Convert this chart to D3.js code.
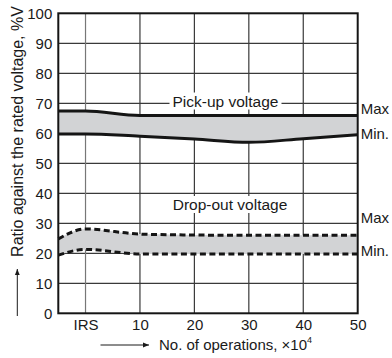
<!DOCTYPE html>
<html>
<head>
<meta charset="utf-8">
<script src="https://cdn.jsdelivr.net/npm/d3@7"></script>
<style>
html,body{margin:0;padding:0;background:#fff;}
svg{display:block;font-family:"Liberation Sans",Arial,sans-serif;}
</style>
</head>
<body>
<svg id="chart" width="392" height="358"></svg>
<script>
// ---- data ----
const xPoints = [-5, 0, 10, 20, 30, 40, 50];           // -5 = left plot edge, 0 = IRS
const pickupMax = [67.4, 67.4, 65.9, 65.9, 65.9, 65.9, 65.9];
const pickupMin = [59.8, 59.8, 59.0, 58.1, 57.0, 58.2, 59.5];
const dropoutMax = [24.8, 28.1, 26.4, 26.1, 26.0, 26.0, 26.0];
const dropoutMin = [19.4, 21.3, 19.8, 19.8, 19.8, 19.8, 19.8];
const xTickValues = [0, 10, 20, 30, 40, 50];
const xTickLabels = ["IRS", "10", "20", "30", "40", "50"];
const yTickValues = [0, 10, 20, 30, 40, 50, 60, 70, 80, 90, 100];
const yTitle = "Ratio against the rated voltage, %V";
const xTitle = "No. of operations, ×10";
const pickupLabel = "Pick-up voltage";
const dropoutLabel = "Drop-out voltage";

// ---- layout ----
const L = 58.3, R = 357.7, T = 13.3, B = 313.3;
const svg = d3.select("#chart");
const x = d3.scaleLinear().domain([-5, 50]).range([L, R]);
const y = d3.scaleLinear().domain([0, 100]).range([B, T]);

// grid
const grid = svg.append("g");
grid.selectAll("line.h").data(yTickValues.filter(v => v > 0 && v < 100)).enter()
  .append("line").attr("x1", L).attr("x2", R)
  .attr("y1", d => y(d)).attr("y2", d => y(d))
  .attr("stroke", "#3a3a3a").attr("stroke-width", 1.2);
grid.selectAll("line.v").data(xTickValues.filter(v => v < 50)).enter()
  .append("line").attr("y1", T).attr("y2", B)
  .attr("x1", d => x(d)).attr("x2", d => x(d))
  .attr("stroke", d => d === 0 ? "#777" : "#3a3a3a").attr("stroke-width", 1.2);

const pts = (a) => xPoints.map((xv, i) => [xv, a[i]]);
const area = (lo, hi) => d3.area().curve(d3.curveMonotoneX)
  .x((d, i) => x(xPoints[i])).y0((d, i) => y(lo[i])).y1((d, i) => y(hi[i]))(xPoints);
const line = d3.line().curve(d3.curveMonotoneX).x(d => x(d[0])).y(d => y(d[1]));

// bands
svg.append("path").attr("d", area(pickupMin, pickupMax)).attr("fill", "#d2d3d5");
svg.append("path").attr("d", area(dropoutMin, dropoutMax)).attr("fill", "#d2d3d5");

// band labels with white background
function bandLabel(text, cx, by) {
  const g = svg.append("g");
  const t = g.append("text").attr("x", cx).attr("y", by).attr("text-anchor", "middle")
    .attr("font-size", 15.5).attr("fill", "#1a1a1a").text(text);
  const bb = t.node().getBBox();
  g.insert("rect", "text").attr("x", bb.x - 3).attr("y", bb.y).attr("width", bb.width + 6)
    .attr("height", bb.height).attr("fill", "#fff");
}
bandLabel(pickupLabel, 225.5, 106.5);
bandLabel(dropoutLabel, 230, 210);

// lines
[pickupMax, pickupMin].forEach(a => svg.append("path").attr("d", line(pts(a)))
  .attr("fill", "none").attr("stroke", "#151515").attr("stroke-width", 3));
[dropoutMax, dropoutMin].forEach(a => svg.append("path").attr("d", line(pts(a)))
  .attr("fill", "none").attr("stroke", "#151515").attr("stroke-width", 3)
  .attr("stroke-dasharray", "6,3.5"));

// frame
svg.append("rect").attr("x", L).attr("y", T).attr("width", R - L).attr("height", B - T)
  .attr("fill", "none").attr("stroke", "#151515").attr("stroke-width", 2);

// axes
const yAxis = svg.append("g").attr("transform", `translate(${L},0)`)
  .call(d3.axisLeft(y).tickValues(yTickValues).tickSize(0).tickPadding(6));
const xAxis = svg.append("g").attr("transform", `translate(0,${B})`)
  .call(d3.axisBottom(x).tickValues(xTickValues).tickSize(0).tickPadding(6)
    .tickFormat((d, i) => xTickLabels[i]));
[yAxis, xAxis].forEach(g => {
  g.select(".domain").remove();
  g.selectAll("text").attr("font-size", 15).attr("fill", "#1a1a1a")
    .attr("font-family", "Liberation Sans, Arial, sans-serif");
});

// Max / Min labels
const side = [["Max", 114], ["Min.", 138.5], ["Max", 223], ["Min.", 256]];
svg.selectAll("text.side").data(side).enter().append("text")
  .attr("x", R + 3).attr("y", d => d[1]).attr("font-size", 15).attr("fill", "#1a1a1a")
  .text(d => d[0]);

// arrow marker
svg.append("defs").append("marker").attr("id", "ah").attr("viewBox", "0 0 10 10")
  .attr("refX", 10).attr("refY", 5).attr("markerWidth", 6).attr("markerHeight", 6)
  .attr("markerUnits", "userSpaceOnUse").attr("orient", "auto")
  .append("path").attr("d", "M0,1 L10,5 L0,9 Z").attr("fill", "#1a1a1a");

// y title
svg.append("text").attr("transform", "translate(22.7,131.5) rotate(-90)")
  .attr("text-anchor", "middle").attr("font-size", 16).attr("fill", "#1a1a1a").text(yTitle);
svg.append("line").attr("x1", 17.3).attr("x2", 17.3).attr("y1", 316).attr("y2", 269)
  .attr("stroke", "#1a1a1a").attr("stroke-width", 1).attr("marker-end", "url(#ah)");

// x title
svg.append("line").attr("x1", 100.5).attr("x2", 149).attr("y1", 345).attr("y2", 345)
  .attr("stroke", "#1a1a1a").attr("stroke-width", 1).attr("marker-end", "url(#ah)");
const xt = svg.append("text").attr("x", 159).attr("y", 349.5).attr("font-size", 15)
  .attr("fill", "#1a1a1a").text(xTitle);
xt.append("tspan").attr("font-size", 9).attr("dy", -7).text("4");
</script>
</body>
</html>
